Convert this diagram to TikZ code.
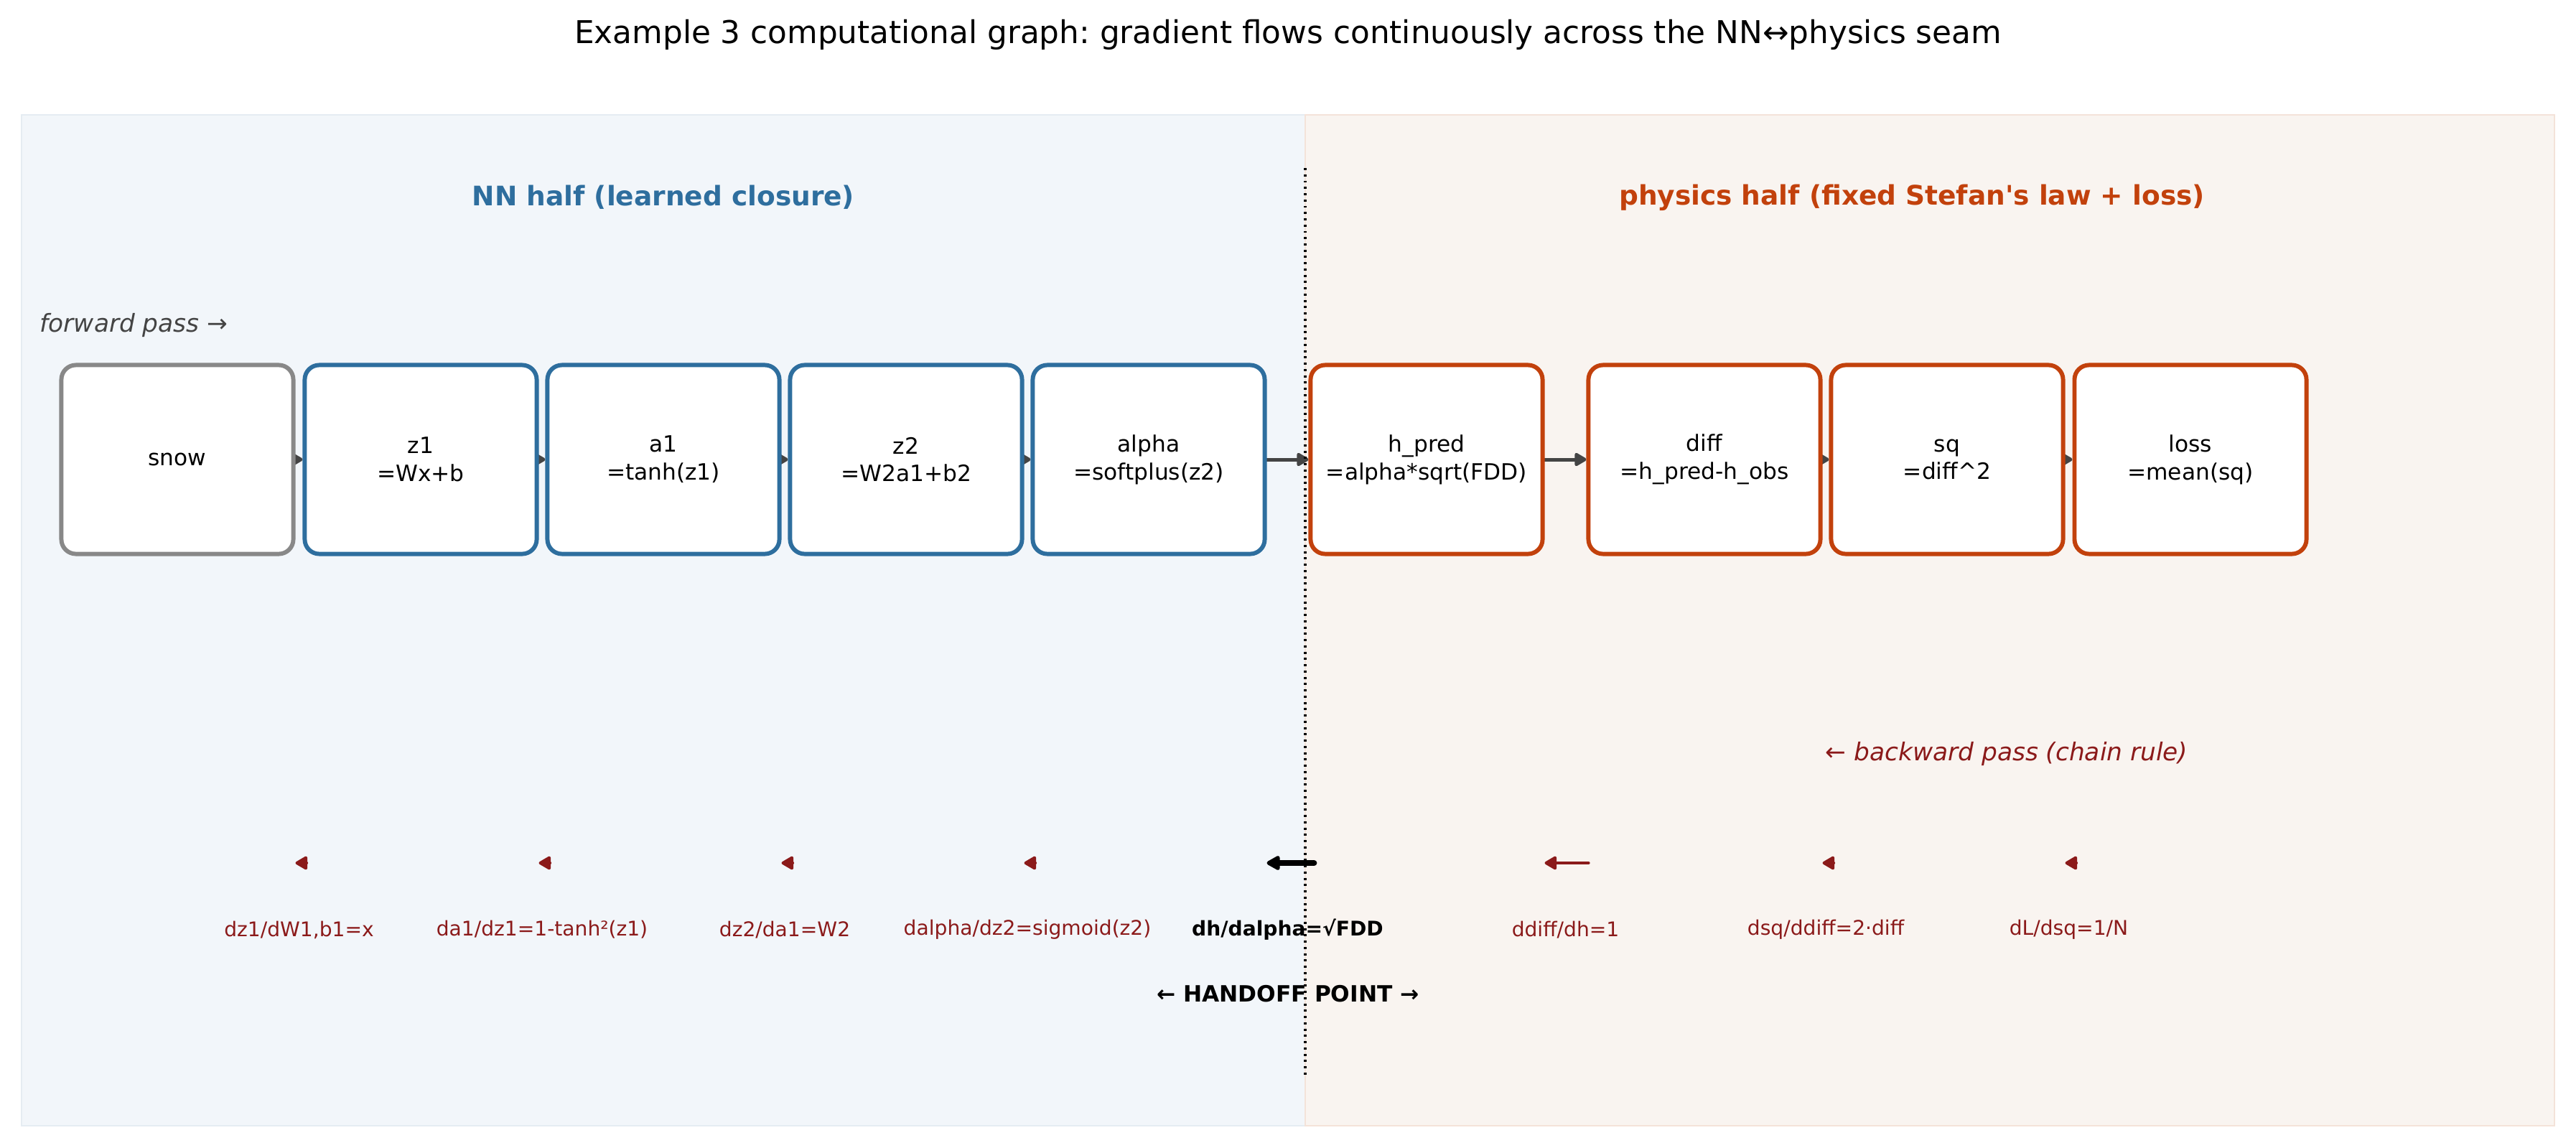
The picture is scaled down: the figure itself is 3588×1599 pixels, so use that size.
\documentclass[tikz,border=0pt]{standalone}
\usepackage{fontspec}
\setmainfont{DejaVu Sans}[Ligatures=TeXOff]
\usetikzlibrary{arrows.meta,calc}
\definecolor{nnblue}{HTML}{2E6E9E}
\definecolor{phorange}{HTML}{C2410C}
\definecolor{bwred}{HTML}{8B1A1A}
\definecolor{fwgray}{HTML}{444444}
\definecolor{nnbg}{HTML}{F2F6FA}
\definecolor{nnedge}{HTML}{E5ECF2}
\definecolor{phbg}{HTML}{F9F4F0}
\definecolor{phedge}{HTML}{F4E3D9}
\definecolor{snowgray}{HTML}{888888}
\pgfdeclarelayer{arrowlayer}
\pgfdeclarelayer{bglayer}
\pgfsetlayers{bglayer,arrowlayer,main}
\frenchspacing
\begin{document}
\begin{tikzpicture}[x=0.32pt,y=-0.32pt,
  opbox/.style={draw, fill=white, line width=1.9pt, rounded corners=6.5pt,
    minimum width=103.4pt, minimum height=84.2pt, inner sep=0pt, align=center,
    font=\fontsize{10}{12.4}\selectfont},
  nnbox/.style={opbox, draw=nnblue},
  phbox/.style={opbox, draw=phorange},
  inbox/.style={opbox, draw=snowgray},
  fwarrow/.style={draw=fwgray, line width=1.6pt, line cap=round,
    -{Triangle[length=6pt,width=6.5pt,round]}},
  bwarrow/.style={draw=bwred, line width=1.3pt, line cap=round, shorten <=-1pt,
    -{Triangle[length=6pt,width=6.6pt,round]}},
  hoarrow/.style={draw=black, line width=2.6pt, line cap=round, shorten <=-2.5pt,
    -{Triangle[length=6.8pt,width=7pt,round]}},
  bwlabel/.style={text=bwred, font=\fontsize{9}{11}\selectfont},
  holabel/.style={text=black, font=\fontsize{9}{11}\selectfont\bfseries}
]
\useasboundingbox (0,0) rectangle (3588,1599);

% panels
\begin{pgfonlayer}{bglayer}
\fill[nnbg] (30,160) rectangle (1818,1568);
\draw[nnedge, line width=0.8pt] (30,160) rectangle (1818,1568);
\fill[phbg] (1818,160) rectangle (3558,1568);
\draw[phedge, line width=0.8pt] (1818,160) rectangle (3558,1568);
\end{pgfonlayer}

% texts
\node[font=\fontsize{14}{17}\selectfont] (title) at (1794,48)
  {Example 3 computational graph: gradient flows continuously across the NN↔physics seam};
\node[font=\fontsize{12}{14}\selectfont\bfseries, text=nnblue] (nnhead) at (924,275)
  {NN half (learned closure)};
\node[font=\fontsize{12}{14}\selectfont\bfseries, text=phorange] (phhead) at (2663,275)
  {physics half (fixed Stefan's law + loss)};
\node[font=\fontsize{11}{13}\selectfont\itshape, text=fwgray, anchor=west, inner sep=0pt] (fwtext) at (55,453)
  {forward pass →};
\node[font=\fontsize{11}{13}\selectfont\itshape, text=bwred] (bwtext) at (2795,1050)
  {← backward pass (chain rule)};

% seam
\coordinate (seamtop) at (1818,234);
\coordinate (seambot) at (1818,1499);
\draw[black, line width=1pt, dash pattern=on 0.9pt off 1.9pt] (seamtop) -- (seambot);

% boxes
\node[inbox] (snow) at (247,640) {snow};
\node[nnbox] (z1) at (586,640) {z1\\=Wx+b};
\node[nnbox] (a1) at (924,640) {a1\\=tanh(z1)};
\node[nnbox] (z2) at (1262,640) {z2\\=W2a1+b2};
\node[nnbox] (alpha) at (1600,640) {alpha\\=softplus(z2)};
\node[phbox] (hpred) at (1987,640) {h\_pred\\=alpha*sqrt(FDD)};
\node[phbox] (diff) at (2374,640) {diff\\=h\_pred-h\_obs};
\node[phbox] (sq) at (2712,640) {sq\\=diff\textasciicircum 2};
\node[phbox] (loss) at (3051,640) {loss\\=mean(sq)};

% forward arrows
\begin{pgfonlayer}{arrowlayer}
\draw[fwarrow] (snow.east) -- (z1.west);
\draw[fwarrow] (z1.east) -- (a1.west);
\draw[fwarrow] (a1.east) -- (z2.west);
\draw[fwarrow] (z2.east) -- (alpha.west);
\draw[fwarrow] (alpha.east) -- (hpred.west);
\draw[fwarrow] (hpred.east) -- (diff.west);
\draw[fwarrow] (diff.east) -- (sq.west);
\draw[fwarrow] (sq.east) -- (loss.west);
\end{pgfonlayer}

% backward arrows
\coordinate (bwy) at (0,1202);
\draw[bwarrow] (z1.west |- bwy) -- (snow.east |- bwy);
\draw[bwarrow] (a1.west |- bwy) -- (z1.east |- bwy);
\draw[bwarrow] (z2.west |- bwy) -- (a1.east |- bwy);
\draw[bwarrow] (alpha.west |- bwy) -- (z2.east |- bwy);
\draw[hoarrow] (hpred.west |- bwy) -- (alpha.east |- bwy);
\draw[bwarrow] (diff.west |- bwy) -- (hpred.east |- bwy);
\draw[bwarrow] (sq.west |- bwy) -- (diff.east |- bwy);
\draw[bwarrow] (loss.west |- bwy) -- (sq.east |- bwy);

% backward labels
\node[bwlabel] (g1) at ($(snow.east)!0.5!(z1.west) + (0,655)$) {dz1/dW1,b1=x};
\node[bwlabel] (g2) at ($(z1.east)!0.5!(a1.west) + (0,655)$) {da1/dz1=1-tanh²(z1)};
\node[bwlabel] (g3) at ($(a1.east)!0.5!(z2.west) + (0,655)$) {dz2/da1=W2};
\node[bwlabel] (g4) at ($(z2.east)!0.5!(alpha.west) + (0,655)$) {dalpha/dz2=sigmoid(z2)};
\node[holabel] (g5) at ($(alpha.east)!0.5!(hpred.west) + (0,655)$) {dh/dalpha=√FDD};
\node[bwlabel] (g6) at ($(hpred.east)!0.5!(diff.west) + (0,655)$) {ddiff/dh=1};
\node[bwlabel] (g7) at ($(diff.east)!0.5!(sq.west) + (0,655)$) {dsq/ddiff=2·diff};
\node[bwlabel] (g8) at ($(sq.east)!0.5!(loss.west) + (0,655)$) {dL/dsq=1/N};

\node[font=\fontsize{10}{12}\selectfont\bfseries] (handoff) at (1794,1384)
  {← HANDOFF POINT →};
\end{tikzpicture}
\end{document}
